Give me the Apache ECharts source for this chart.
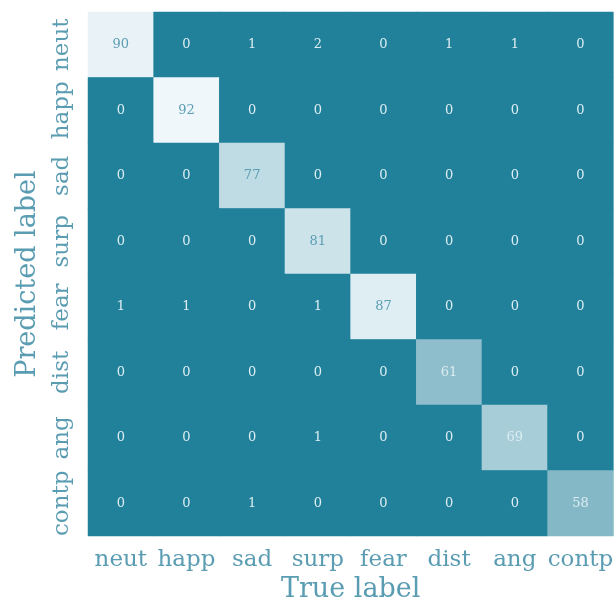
<!DOCTYPE html>
<html>
<head>
<meta charset="utf-8">
<script src="https://cdn.jsdelivr.net/npm/echarts@6/dist/echarts.min.js"></script>
<style>
  html, body { margin: 0; padding: 0; background: #ffffff; }
  #chart { width: 616px; height: 608px; }
</style>
</head>
<body>
<div id="chart"></div>
<script>
// Emotion classes (true label on x, predicted label on y)
const classes = ['neut', 'happ', 'sad', 'surp', 'fear', 'dist', 'ang', 'contp'];

// Confusion-matrix rows, one per predicted class
const rowNeut  = [90, 0, 1, 2, 0, 1, 1, 0];
const rowHapp  = [0, 92, 0, 0, 0, 0, 0, 0];
const rowSad   = [0, 0, 77, 0, 0, 0, 0, 0];
const rowSurp  = [0, 0, 0, 81, 0, 0, 0, 0];
const rowFear  = [1, 1, 0, 1, 87, 0, 0, 0];
const rowDist  = [0, 0, 0, 0, 0, 61, 0, 0];
const rowAng   = [0, 0, 0, 1, 0, 0, 69, 0];
const rowContp = [0, 0, 1, 0, 0, 0, 0, 58];

const rows = [rowNeut, rowHapp, rowSad, rowSurp, rowFear, rowDist, rowAng, rowContp];

const cells = [];
rows.forEach((row, y) => row.forEach((v, x) => cells.push([x, y, v])));

const maxVal = Math.max(...cells.map(c => c[2]));

const FONT = 'DejaVu Serif';
const TEXT = '#5a9cb2';
const LOW = '#21819a';

const chart = echarts.init(document.getElementById('chart'), null, { renderer: 'canvas' });
chart.setOption({
  backgroundColor: '#ffffff',
  animation: false,
  grid: {
    left: 88, top: 12, width: 528, height: 528,
    show: true, backgroundColor: LOW, borderWidth: 0
  },
  xAxis: {
    type: 'category',
    data: classes,
    position: 'bottom',
    name: 'True label',
    nameLocation: 'middle',
    nameGap: 37,
    nameTextStyle: { fontFamily: FONT, fontSize: 27, color: TEXT },
    axisLine: { show: false },
    axisTick: { show: false },
    splitLine: { show: false },
    axisLabel: { fontFamily: FONT, fontSize: 23, color: TEXT, margin: 12, interval: 0 }
  },
  yAxis: {
    type: 'category',
    data: classes,
    inverse: true,
    name: 'Predicted label',
    nameLocation: 'middle',
    nameRotate: 90,
    nameGap: 47,
    nameTextStyle: { fontFamily: FONT, fontSize: 27, color: TEXT },
    axisLine: { show: false },
    axisTick: { show: false },
    splitLine: { show: false },
    axisLabel: { fontFamily: FONT, fontSize: 23, color: TEXT, rotate: 90, margin: 14, interval: 0 }
  },
  visualMap: {
    show: false,
    type: 'continuous',
    min: 0,
    max: maxVal,
    dimension: 2,
    // flat at the low end so small counts stay the same dark teal
    inRange: { color: [LOW, LOW, '#4f9ab0', '#7cb3c3', '#b4d5df', '#eff7fa'] }
  },
  series: [{
    type: 'heatmap',
    data: cells,
    itemStyle: { borderWidth: 0 },
    label: {
      show: true,
      fontFamily: FONT,
      fontSize: 13,
      formatter: p => (p.value[2] >= 75 ? '{lt|' : '{dk|') + p.value[2] + '}',
      rich: {
        lt: { fontFamily: FONT, fontSize: 13, color: '#5b9db3' },
        dk: { fontFamily: FONT, fontSize: 13, color: '#dcedf2' }
      }
    },
    emphasis: { disabled: true }
  }]
});
</script>
</body>
</html>
